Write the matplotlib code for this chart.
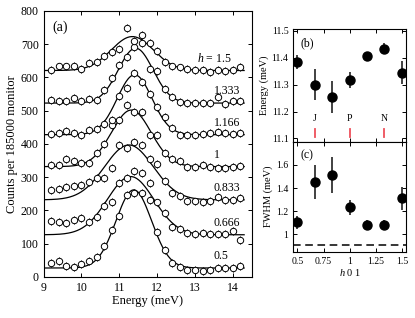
import numpy as np
import matplotlib
matplotlib.use('Agg')
from matplotlib import pyplot as plt

plt.rcParams['font.family'] = 'Liberation Serif'
plt.rcParams['mathtext.fontset'] = 'custom'
plt.rcParams['mathtext.rm'] = 'Liberation Serif'
plt.rcParams['mathtext.it'] = 'Liberation Serif:italic'

# energy transfer grid of the scans (meV)
energy = [9.2, 9.4, 9.6, 9.8, 10.0, 10.2, 10.4, 10.6, 10.8, 11.0, 11.2, 11.4, 11.6,
          11.8, 12.0, 12.2, 12.4, 12.6, 12.8, 13.0, 13.2, 13.4, 13.6, 13.8, 14.0, 14.2]

# counts per 185000 monitor, already offset by 100 per scan
counts_0500 = [41, 48, 34, 29, 38, 47, 60, 93, 141, 183, 247, 254, 254,
               232, 136, 80, 41, 29, 20, 21, 17, 20, 28, 27, 28, 33]
counts_0666 = [168, 164, 163, 172, 177, 164, 181, 214, 226, 282, 297, 318, 312,
               282, 224, 192, 151, 144, 131, 128, 133, 130, 128, 130, 138, 111]
counts_0833 = [262, 265, 272, 273, 278, 286, 298, 299, 328, 397, 387, 407, 397,
               356, 340, 290, 252, 244, 228, 227, 226, 228, 240, 232, 231, 238]
counts_1000 = [337, 337, 355, 349, 342, 344, 372, 401, 456, 472, 517, 497, 497,
               427, 427, 372, 355, 349, 332, 332, 337, 332, 329, 329, 332, 335]
counts_1166 = [430, 433, 440, 433, 427, 441, 446, 460, 472, 545, 568, 613, 587,
               551, 510, 482, 449, 428, 428, 427, 429, 432, 436, 433, 430, 434]
counts_1333 = [531, 530, 530, 537, 528, 534, 532, 562, 598, 638, 662, 691, 703,
               626, 618, 566, 542, 525, 523, 522, 523, 522, 540, 520, 529, 528]
counts_1500 = [623, 633, 633, 634, 626, 644, 648, 664, 676, 687, 748, 710, 728,
               705, 681, 648, 633, 630, 625, 622, 623, 615, 622, 620, 621, 631]
counts_err = 12

h_vals = [0.5, 0.666, 0.833, 1.0, 1.166, 1.333, 1.5]
h_labels = ['0.5', '0.666', '0.833', '1', '1.166', '1.333', r'$h$ = 1.5']

# fitted peak position and width (panels b, c)
peak_energy = [11.384, 11.300, 11.255, 11.318, 11.406, 11.434, 11.345]
peak_energy_err = [0.026, 0.058, 0.059, 0.029, 0.017, 0.021, 0.043]
fwhm = [1.103, 1.451, 1.511, 1.233, 1.080, 1.080, 1.310]
fwhm_err = [0.053, 0.148, 0.155, 0.065, 0.043, 0.045, 0.100]
resolution = 0.91

# fit background and amplitude for panel (a)
fit_base = [27, 127, 232, 332, 428, 523, 621]
fit_amp = [235, 175, 165, 170, 180, 165, 102]

zone_pos = [0.666, 1.0, 1.333]
zone_names = ['J', 'P', 'N']

all_counts = [counts_0500, counts_0666, counts_0833, counts_1000,
              counts_1166, counts_1333, counts_1500]

fig = plt.figure(figsize=(4.15, 3.18), dpi=100)
ax_a = fig.add_axes([0.105, 0.129, 0.5015, 0.8365])
ax_b = fig.add_axes([0.7068, 0.5544, 0.2715, 0.3534])
ax_c = fig.add_axes([0.7068, 0.2085, 0.2715, 0.3459])

# ---- panel (a)
xfit = np.linspace(9.0, 14.3, 300)
for i in range(len(h_vals)):
    sig = fwhm[i] / 2.3548
    yfit = fit_base[i] + fit_amp[i] * np.exp(-(xfit - peak_energy[i])**2 / (2 * sig**2))
    ax_a.plot(xfit, yfit, color='black', lw=0.9)
    ax_a.errorbar(energy, all_counts[i], yerr=counts_err, fmt='o', ms=4.6,
                  mfc='white', mec='black', mew=0.7, ecolor='black', elinewidth=0.7,
                  capsize=0, zorder=3)
    ax_a.text(13.05 if i == 6 else 13.5, fit_base[i] + 36, h_labels[i],
              fontsize=8.5, ha='left', va='center')

ax_a.set_xlim(9, 14.5)
ax_a.set_ylim(0, 800)
ax_a.set_xticks([9, 10, 11, 12, 13, 14])
ax_a.set_yticks(range(0, 801, 100))
ax_a.tick_params(direction='in', top=True, right=True, labelsize=8.5, length=3, width=0.7)
ax_a.set_xlabel('Energy (meV)', fontsize=9, labelpad=1)
ax_a.set_ylabel('Counts per 185000 monitor', fontsize=9, labelpad=2)
ax_a.text(0.04, 0.94, '(a)', transform=ax_a.transAxes, fontsize=10, va='center')

# ---- panel (b)
ax_b.errorbar(h_vals, peak_energy, yerr=peak_energy_err, fmt='o', ms=6.5,
              color='black', ecolor='#333333', elinewidth=1.3, capsize=0)
for xp, name in zip(zone_pos, zone_names):
    ax_b.plot([xp, xp], [11.104, 11.137], color='#ee4f5a', lw=1.3)
    ax_b.text(xp, 11.175, name, fontsize=7, ha='center', va='center')
ax_b.set_xlim(0.46, 1.54)
ax_b.set_ylim(11.088, 11.506)
ax_b.set_xticks([0.5, 0.75, 1, 1.25, 1.5])
ax_b.set_yticks([11.1, 11.2, 11.3, 11.4, 11.5])
ax_b.set_yticklabels(['11.1', '11.2', '11.3', '11.4', '11.5'])
ax_b.tick_params(direction='in', top=True, right=True, labelbottom=False,
                 labelsize=7, length=3, width=0.7)
ax_b.set_ylabel('Energy (meV)', fontsize=7.5, labelpad=2)
ax_b.text(0.06, 0.88, '(b)', transform=ax_b.transAxes, fontsize=8.5, va='center')

# ---- panel (c)
ax_c.errorbar(h_vals, fwhm, yerr=fwhm_err, fmt='o', ms=6.5,
              color='black', ecolor='#333333', elinewidth=1.3, capsize=0)
ax_c.axhline(resolution, color='black', lw=1.1, ls=(0, (5, 3)))
ax_c.set_xlim(0.46, 1.54)
ax_c.set_ylim(0.85, 1.8)
ax_c.set_xticks([0.5, 0.75, 1, 1.25, 1.5])
ax_c.set_xticklabels(['0.5', '0.75', '1', '1.25', '1.5'])
ax_c.set_yticks([1, 1.2, 1.4, 1.6])
ax_c.set_yticklabels(['1', '1.2', '1.4', '1.6'])
ax_c.tick_params(direction='in', top=True, right=True, labelsize=7, length=3, width=0.7)
ax_c.set_ylabel('FWHM (meV)', fontsize=7.5, labelpad=2)
ax_c.set_xlabel(r'$h$ 0 1', fontsize=7.5, labelpad=1)
ax_c.text(0.06, 0.88, '(c)', transform=ax_c.transAxes, fontsize=8.5, va='center')

for ax in (ax_a, ax_b, ax_c):
    for sp in ax.spines.values():
        sp.set_linewidth(0.8)

fig.savefig('out.png', dpi=100)
